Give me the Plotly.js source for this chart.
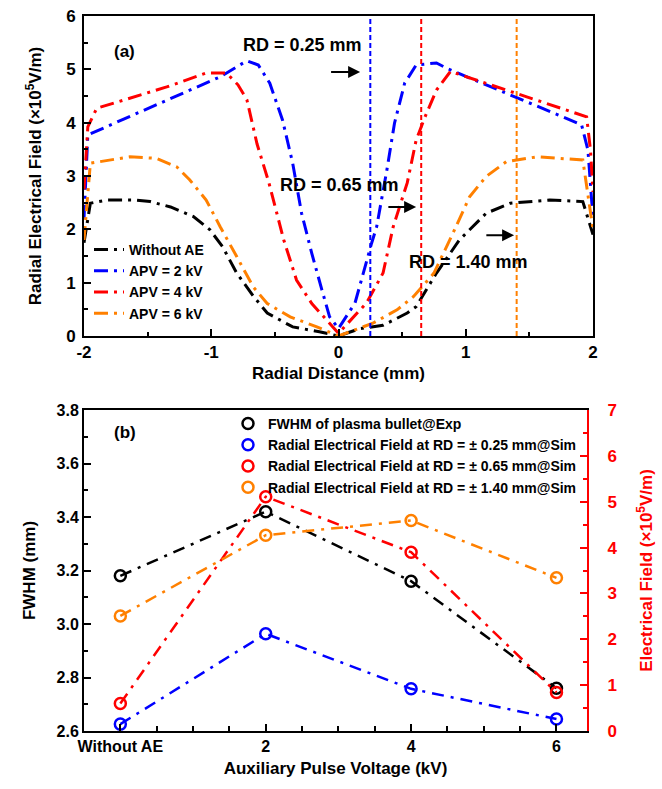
<!DOCTYPE html>
<html><head><meta charset="utf-8">
<script src="https://cdn.plot.ly/plotly-3.0.1.min.js"></script>
<style>html,body{margin:0;padding:0;background:#fff}#chart{width:662px;height:789px}</style>
</head><body><div id="chart"></div>
<script>
// ---- Panel (a): radial electric field vs radial distance ----
const seriesNamesA = ["Without AE", "APV = 2 kV", "APV = 4 kV", "APV = 6 kV"];
const rdTicks = [-2, -1, 0, 1, 2];
const rdTickText = ["-2", "-1", "0", "1", "2"];
const rdBlack = [-2, -1.95, -1.82, -1.61, -1.48, -1.32, -1.14, -1.01, -0.91, -0.8, -0.67, -0.56, -0.36, -0.15, 0, 0.17, 0.35, 0.54, 0.61, 0.77, 0.95, 1.16, 1.35, 1.66, 1.92, 2];
const efBlack = [1.75, 2.49, 2.55, 2.55, 2.52, 2.42, 2.24, 1.99, 1.67, 1.18, 0.75, 0.43, 0.17, 0.08, 0, 0.14, 0.2, 0.43, 0.55, 1.18, 1.8, 2.3, 2.49, 2.55, 2.52, 1.9];
const rdBlue = [-2, -1.97, -0.93, -0.72, -0.63, -0.54, -0.44, -0.36, -0.29, -0.21, -0.13, -0.07, 0, 0.13, 0.26, 0.30, 0.38, 0.44, 0.52, 0.61, 0.77, 0.85, 1.91, 1.96, 2];
const efBlue = [2.2, 3.77, 4.86, 5.16, 5.08, 4.74, 4.05, 3.24, 2.3, 1.55, 0.86, 0.36, 0.14, 0.62, 1.74, 2.05, 3.11, 3.99, 4.74, 5.08, 5.12, 5.02, 3.96, 3.49, 2.2];
const rdRed = [-2, -1.97, -1.90, -1.35, -1.04, -0.88, -0.79, -0.72, -0.64, -0.55, -0.43, -0.33, -0.21, -0.07, 0, 0.22, 0.35, 0.43, 0.54, 0.61, 0.68, 0.77, 0.88, 1.95, 1.98, 2];
const efRed = [2.75, 3.92, 4.27, 4.67, 4.93, 4.93, 4.71, 4.43, 3.6, 2.9, 1.8, 1.05, 0.61, 0.24, 0.05, 0.62, 1.18, 2.05, 2.87, 3.67, 4.11, 4.61, 4.96, 4.11, 3.49, 2.7];
const rdOrange = [-2, -1.95, -1.64, -1.43, -1.27, -1.17, -1.04, -0.93, -0.8, -0.67, -0.56, -0.38, -0.17, 0, 0.27, 0.46, 0.59, 0.75, 0.9, 1.03, 1.16, 1.32, 1.56, 1.92, 2];
const efOrange = [1.8, 3.24, 3.36, 3.33, 3.17, 2.93, 2.55, 2.05, 1.49, 0.92, 0.61, 0.36, 0.17, 0, 0.24, 0.49, 0.74, 1.18, 1.93, 2.61, 2.99, 3.27, 3.36, 3.3, 2.0];
const markerRD = [0.25, 0.65, 1.40];
const markerRDlabels = ["RD = 0.25 mm", "RD = 0.65 mm", "RD = 1.40 mm"];

// ---- Panel (b): FWHM and field vs auxiliary pulse voltage ----
const voltCategories = ["Without AE", "2", "4", "6"];
const voltX = [0, 2, 4, 6];
const fwhmExp = [3.18, 3.42, 3.16, 2.76];
const field025 = [0.15, 2.12, 0.92, 0.26];
const field065 = [0.60, 5.11, 3.90, 0.84];
const field140 = [2.51, 4.27, 4.59, 3.34];
const seriesNamesB = ["FWHM of plasma bullet@Exp",
  "Radial Electrical Field at RD = ± 0.25 mm@Sim",
  "Radial Electrical Field at RD = ± 0.65 mm@Sim",
  "Radial Electrical Field at RD = ± 1.40 mm@Sim"];

const BLACK = "#000000", BLUE = "#0000FF", RED = "#FF0000", ORANGE = "#FF8000";
const dashA = "14px,6px,3px,6px";
const dashB = "12px,7px,3px,7px";
const vdash = "5px,3px";

const traces = [];
function lineA(x, y, name, color) {
  traces.push({x: x, y: y, name: name, type: "scatter", mode: "lines", xaxis: "x", yaxis: "y",
    line: {color: color, width: 3, dash: dashA}, legend: "legend"});
}
lineA(rdBlack, efBlack, seriesNamesA[0], BLACK);
lineA(rdBlue, efBlue, seriesNamesA[1], BLUE);
lineA(rdRed, efRed, seriesNamesA[2], RED);
lineA(rdOrange, efOrange, seriesNamesA[3], ORANGE);
const vcolors = [BLUE, RED, ORANGE];
markerRD.forEach((r, i) => {
  traces.push({x: [r, r], y: [0, 6], type: "scatter", mode: "lines", xaxis: "x", yaxis: "y",
    showlegend: false, line: {color: vcolors[i], width: 2, dash: vdash}, hoverinfo: "skip"});
});

function seriesB(y, name, color, yax) {
  traces.push({x: voltX, y: y, type: "scatter", mode: "lines", xaxis: "x2", yaxis: yax,
    showlegend: false, line: {color: color, width: 2.5, dash: dashB}});
  traces.push({x: voltX, y: y, name: name, type: "scatter", mode: "markers", xaxis: "x2", yaxis: yax,
    legend: "legend2",
    marker: {symbol: "circle-open", size: 11, color: color, line: {width: 2.5, color: color}}});
}
seriesB(fwhmExp, seriesNamesB[0], BLACK, "y2");
seriesB(field025, seriesNamesB[1], BLUE, "y3");
seriesB(field065, seriesNamesB[2], RED, "y3");
seriesB(field140, seriesNamesB[3], ORANGE, "y3");

const W = 662, H = 789;
const px = v => v / W, py = v => 1 - v / H;
const FONT = "Liberation Sans, Arial, sans-serif";

const annotations = [
  {text: "(a)", x: px(112), y: py(40), xref: "paper", yref: "paper", showarrow: false, font: {size: 17, weight: "bold"}},
  {text: "(b)", x: px(112), y: py(432), xref: "paper", yref: "paper", showarrow: false, font: {size: 17, weight: "bold"}},
  {text: markerRDlabels[0], x: -0.28, y: 5.46, xref: "x", yref: "y", showarrow: false, font: {size: 18, weight: "bold"}},
  {text: markerRDlabels[1], x: 0.01, y: 2.83, xref: "x", yref: "y", showarrow: false, font: {size: 18, weight: "bold"}},
  {text: markerRDlabels[2], x: 1.02, y: 1.39, xref: "x", yref: "y", showarrow: false, font: {size: 18, weight: "bold"}},
  {text: "", x: 0.17, y: 4.95, ax: -0.07, ay: 4.95, xref: "x", yref: "y", axref: "x", ayref: "y", showarrow: true, arrowhead: 2, arrowsize: 1.2, arrowwidth: 2, arrowcolor: BLACK},
  {text: "", x: 0.61, y: 2.42, ax: 0.38, ay: 2.42, xref: "x", yref: "y", axref: "x", ayref: "y", showarrow: true, arrowhead: 2, arrowsize: 1.2, arrowwidth: 2, arrowcolor: BLACK},
  {text: "", x: 1.38, y: 1.89, ax: 1.15, ay: 1.89, xref: "x", yref: "y", axref: "x", ayref: "y", showarrow: true, arrowhead: 2, arrowsize: 1.2, arrowwidth: 2, arrowcolor: BLACK}
];

const axCommon = {showgrid: false, zeroline: false, showline: true, linewidth: 2, linecolor: BLACK,
  ticks: "inside", ticklen: 7, tickwidth: 2, tickcolor: BLACK};

const layout = {
  width: W, height: H, margin: {l: 0, r: 0, t: 0, b: 0},
  paper_bgcolor: "#fff", plot_bgcolor: "#fff",
  font: {family: FONT, size: 16, color: BLACK, weight: "bold"},
  showlegend: true,
  xaxis: Object.assign({}, axCommon, {domain: [px(84), px(593)], range: [-2, 2], anchor: "y", mirror: true,
    tickmode: "array", tickvals: rdTicks, ticktext: rdTickText,
    minor: {dtick: 0.5, tick0: 0, ticks: "inside", ticklen: 4, tickwidth: 2, tickcolor: BLACK},
    tickfont: {size: 17, weight: "bold"},
    title: {text: "Radial Distance (mm)", font: {size: 17, weight: "bold"}, standoff: 6}}),
  yaxis: Object.assign({}, axCommon, {domain: [py(336), py(16)], range: [0, 6], anchor: "x", mirror: true,
    dtick: 1, tick0: 0, ticklabelstandoff: 3,
    minor: {dtick: 0.5, ticks: "inside", ticklen: 4, tickwidth: 2, tickcolor: BLACK},
    tickfont: {size: 17, weight: "bold"},
    title: {text: "Radial Electrical Field (×10<sup>5</sup>V/m)", font: {size: 17, weight: "bold"}, standoff: 20}}),
  xaxis2: Object.assign({}, axCommon, {domain: [px(84), px(587)], range: [-0.5, 6.42], anchor: "y2", mirror: true,
    tickmode: "array", tickvals: voltX, ticktext: voltCategories,
    minor: {dtick: 0.5, tick0: 0, ticks: "inside", ticklen: 5, tickwidth: 2, tickcolor: BLACK},
    tickfont: {size: 16, weight: "bold"},
    title: {text: "Auxiliary Pulse Voltage (kV)", font: {size: 17, weight: "bold"}, standoff: 8}}),
  yaxis2: Object.assign({}, axCommon, {domain: [py(731), py(410)], range: [2.6, 3.8], anchor: "x2",
    dtick: 0.2, tick0: 2.6, tickformat: ".1f",
    minor: {dtick: 0.1, ticks: "inside", ticklen: 4, tickwidth: 2, tickcolor: BLACK},
    tickfont: {size: 16, weight: "bold"},
    title: {text: "FWHM (mm)", font: {size: 17, weight: "bold"}, standoff: 17}}),
  yaxis3: Object.assign({}, axCommon, {overlaying: "y2", side: "right", anchor: "x2", range: [0, 7],
    linecolor: RED, tickcolor: RED, dtick: 1, tick0: 0, ticklabelstandoff: 15,
    minor: {dtick: 0.5, ticks: "inside", ticklen: 4, tickwidth: 2, tickcolor: RED},
    tickfont: {size: 17, color: RED, weight: "bold"},
    title: {text: "Electrical Field (×10<sup>5</sup>V/m)", font: {size: 17, color: RED, weight: "bold"}, standoff: 24}}),
  legend: {x: px(89), y: py(234), xanchor: "left", yanchor: "top", bgcolor: "rgba(0,0,0,0)",
    font: {size: 14, weight: "bold"}, tracegroupgap: 0, itemwidth: 30},
  legend2: {x: px(228), y: py(408), xanchor: "left", yanchor: "top", bgcolor: "rgba(0,0,0,0)",
    font: {size: 14, weight: "bold"}, tracegroupgap: 0},
  annotations: annotations
};

Plotly.newPlot("chart", traces, layout, {staticPlot: true, displayModeBar: false});
</script></body></html>
